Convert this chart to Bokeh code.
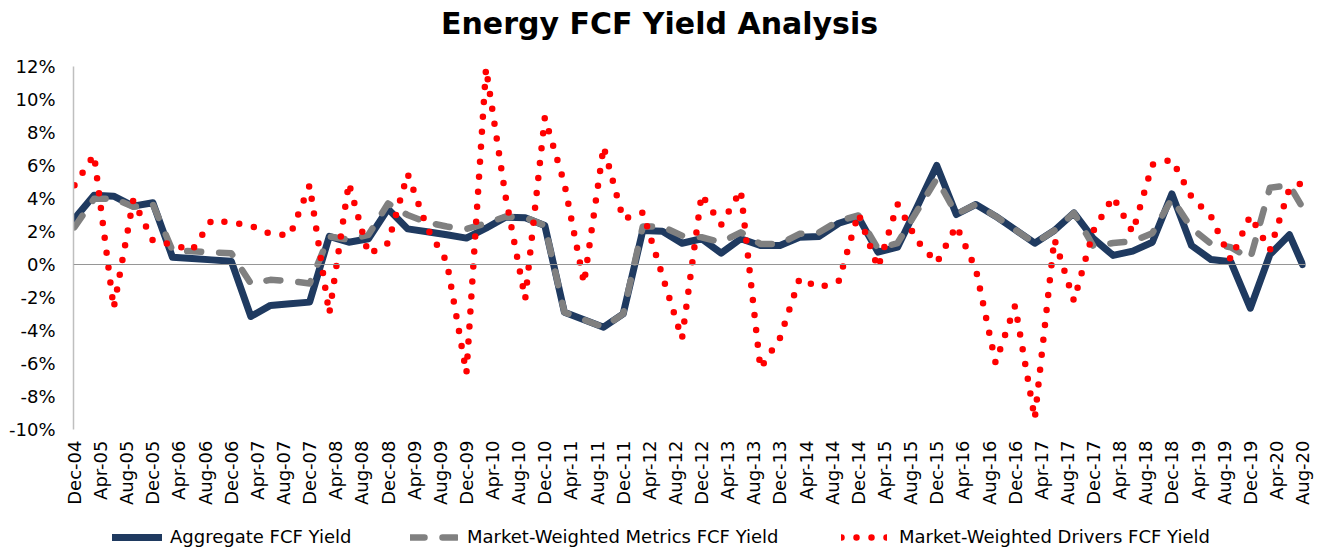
import math
from bokeh.plotting import figure
from bokeh.layouts import column
from bokeh.models import Range1d, FixedTicker, Span, Legend, LegendItem, Label
from bokeh.embed import file_html
from bokeh.resources import INLINE

# quarterly observation points, in months after Dec-04 (last point Aug-20)
months = list(range(0, 187, 3)) + [188]

aggregate = [2.77, 4.2, 4.14, 3.54, 3.74, 0.44, 0.36, 0.28, 0.2, -3.15, -2.48, -2.38, -2.28,
             1.7, 1.35, 1.56, 3.37, 2.16, 1.98, 1.8, 1.6, 2.2, 2.87, 2.83, 2.36, -2.89, -3.35,
             -3.8, -2.99, 2.06, 2.02, 1.29, 1.56, 0.69, 1.56, 1.15, 1.15, 1.65, 1.7, 2.5, 2.87,
             0.75, 1.05, 3.5, 6.0, 3.03, 3.64, 2.93, 2.11, 1.29, 2.06, 3.13, 1.56, 0.55, 0.81,
             1.35, 4.28, 1.15, 0.3, 0.17, -2.65, 0.6, 1.8, 0.0]

metrics = [2.26, 3.98, 4.0, 3.5, 3.65, 0.85, 0.8, 0.74, 0.68, -1.15, -0.93, -1.0, -1.15,
           1.7, 1.5, 1.8, 3.7, 3.0, 2.55, 2.3, 2.15, 2.5, 2.9, 2.85, 2.36, -2.89, -3.35,
           -3.8, -2.99, 2.3, 2.3, 1.75, 1.65, 1.35, 1.95, 1.25, 1.25, 1.86, 1.95, 2.65, 2.97,
           0.95, 1.3, 3.25, 5.2, 3.05, 3.65, 2.93, 2.11, 1.29, 2.06, 3.13, 1.1, 1.3, 1.4,
           1.9, 4.0, 2.2, 1.25, 1.05, 0.35, 4.65, 4.8, 3.45]

drivers = [4.8, 6.65, -2.65, 3.9, 1.45, 1.2, 0.85, 2.68, 2.55, 2.35, 1.85, 1.77, 4.8,
           -3.0, 4.95, 0.62, 1.3, 5.5, 2.2, 0.16, -6.6, 11.9, 4.1, -2.1, 8.9, 4.9, -1.15,
           7.15, 2.75, 3.15, -0.67, -4.5, 4.25, 2.4, 4.5, -6.3, -4.45, -0.85, -1.4, -1.0, 3.1,
           -0.2, 3.65, 1.45, 0.1, 2.35, -0.3, -5.95, -2.5, -9.35, 1.55, -2.2, 2.05, 4.1, 1.95,
           6.05, 6.35, 4.1, 2.9, 0.3, 2.95, 0.87, 4.62, 4.95]

tick_months = list(range(0, 189, 4))
tick_labels = ["Dec-04", "Apr-05", "Aug-05", "Dec-05", "Apr-06", "Aug-06", "Dec-06", "Apr-07",
               "Aug-07", "Dec-07", "Apr-08", "Aug-08", "Dec-08", "Apr-09", "Aug-09", "Dec-09",
               "Apr-10", "Aug-10", "Dec-10", "Apr-11", "Aug-11", "Dec-11", "Apr-12", "Aug-12",
               "Dec-12", "Apr-13", "Aug-13", "Dec-13", "Apr-14", "Aug-14", "Dec-14", "Apr-15",
               "Aug-15", "Dec-15", "Apr-16", "Aug-16", "Dec-16", "Apr-17", "Aug-17", "Dec-17",
               "Apr-18", "Aug-18", "Dec-18", "Apr-19", "Aug-19", "Dec-19", "Apr-20", "Aug-20"]
y_ticks = list(range(-10, 13, 2))

series_names = ["Aggregate FCF Yield", "Market-Weighted Metrics FCF Yield",
                "Market-Weighted Drivers FCF Yield"]
title_text = "Energy FCF Yield Analysis"

FONT = "DejaVu Sans"
W = 1325
STYLES = [
    dict(line_color="#1F3A60", line_width=7, line_join="round", line_cap="round"),
    dict(line_color="#808080", line_width=6.5, line_dash="14 18", line_join="round", line_cap="round"),
    dict(line_color="#FF0000", line_width=6.5, line_dash="0 15", line_join="round", line_cap="round"),
]


def bare_figure(height, xr=(0, 1), yr=(0, 1)):
    f = figure(width=W, height=height, output_backend="svg", toolbar_location=None,
               x_range=Range1d(*xr), y_range=Range1d(*yr), min_border=0,
               x_axis_location=None, y_axis_location=None)
    f.outline_line_color = None
    f.grid.visible = False
    f.background_fill_color = "white"
    f.border_fill_color = "white"
    return f


# ---- title strip (frame is aligned with the chart frame by the column layout) ----
tf = bare_figure(50)
tf.add_layout(Label(x=586, y=27.5, x_units="screen", y_units="screen", text=title_text,
                    text_align="center", text_baseline="alphabetic", text_font=FONT,
                    text_font_style="bold", text_font_size="30px", text_color="black"))

# ---- main chart ----
p = figure(width=W, height=460, output_backend="svg", toolbar_location=None,
           x_range=Range1d(-0.15, 188.45), y_range=Range1d(-10, 12),
           min_border_left=73, min_border_right=20, min_border_top=16, min_border_bottom=81)
p.outline_line_color = None
p.grid.visible = False
p.background_fill_color = "white"
p.border_fill_color = "white"

xa = p.xaxis[0]
xa.ticker = FixedTicker(ticks=tick_months)
xa.major_label_overrides = {m: lab for m, lab in zip(tick_months, tick_labels)}
xa.major_label_orientation = math.pi / 2
xa.axis_line_color = None
xa.major_tick_line_color = None
xa.minor_tick_line_color = None
xa.major_tick_out = 0
xa.major_label_standoff = 11
xa.major_label_text_font = FONT
xa.major_label_text_font_size = "18px"
xa.major_label_text_color = "black"

ya = p.yaxis[0]
ya.ticker = FixedTicker(ticks=y_ticks)
ya.major_label_overrides = {t: f"{t}%" for t in y_ticks}
ya.axis_line_color = "#BFBFBF"
ya.axis_line_width = 1.5
ya.major_tick_line_color = None
ya.minor_tick_line_color = None
ya.major_tick_out = 0
ya.major_label_standoff = 18
ya.major_label_text_font = FONT
ya.major_label_text_font_size = "18px"
ya.major_label_text_color = "black"

p.add_layout(Span(location=0, dimension="width", line_color="#969696", line_width=1))

for vals, st in zip([aggregate, metrics, drivers], STYLES):
    p.line(months, vals, **st)

# ---- legend strip: same series, ranges chosen so nothing is drawn in its frame ----
lf = bare_figure(42, xr=(-60, -50), yr=(60, 70))
leg_pos = [(39, 50, 8), (337, 48, 9), (768, 46, 12)]
for name, vals, st, (vx, gw, so) in zip(series_names, [aggregate, metrics, drivers],
                                        STYLES, leg_pos):
    r = lf.line(months, vals, **st)
    lf.add_layout(Legend(items=[LegendItem(label=name, renderers=[r])], location=(vx, 5),
                         orientation="horizontal", glyph_width=gw, glyph_height=20,
                         label_height=20, label_standoff=so, padding=0, margin=0,
                         border_line_color=None, background_fill_alpha=0,
                         label_text_font=FONT, label_text_font_size="18px",
                         label_text_color="black"))

layout = column(tf, p, lf, spacing=0)
open("out.html", "w").write(file_html(layout, INLINE))
